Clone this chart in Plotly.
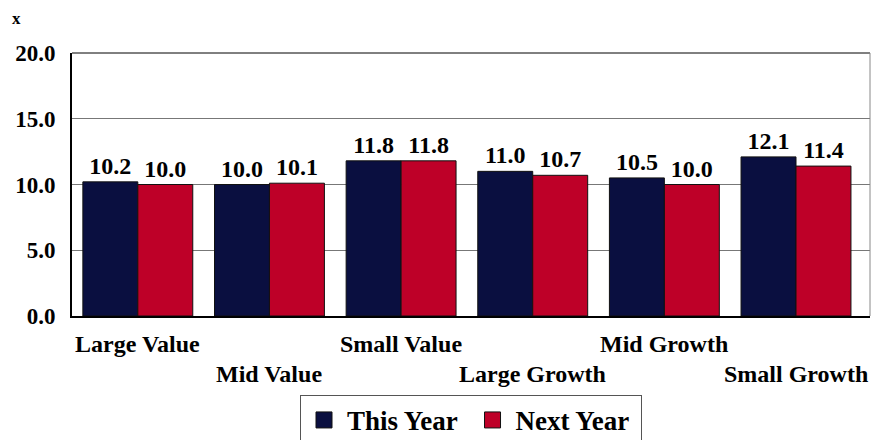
import plotly.graph_objects as go

categories = ["Large Value", "Mid Value", "Small Value", "Large Growth", "Mid Growth", "Small Growth"]
this_year = [10.2, 10.0, 11.8, 11.0, 10.5, 12.1]
next_year = [10.0, 10.1, 11.8, 10.7, 10.0, 11.4]
y_ticks = [0, 5, 10, 15, 20]

NAVY = "#0A0F40"
RED = "#BE0028"
FONT = "Liberation Serif"

fig = go.Figure()
fig.add_trace(go.Bar(x=categories, y=this_year, name="This Year", marker=dict(color=NAVY, line=dict(color="#111", width=1)),
                     text=[f"<b>{v:.1f}</b>" for v in this_year], textposition="outside", cliponaxis=False,
                     textfont=dict(size=24, color="black", family=FONT), showlegend=False))
fig.add_trace(go.Bar(x=categories, y=next_year, name="Next Year", marker=dict(color=RED, line=dict(color="#111", width=1)),
                     text=[f"<b>{v:.1f}</b>" for v in next_year], textposition="outside", cliponaxis=False,
                     textfont=dict(size=24, color="black", family=FONT), showlegend=False))
# legend entries
for name, col in [("This Year", NAVY), ("Next Year", RED)]:
    fig.add_trace(go.Scatter(x=[None], y=[None], mode="markers", name=f"<b>{name}</b>&nbsp;",
                             marker=dict(symbol="square", size=20, color=col, line=dict(color="#111", width=1))))

for i, c in enumerate(categories):
    fig.add_annotation(x=c, xref="x", y=-0.049 if i % 2 == 0 else -0.163, yref="paper", yanchor="top",
                       text=f"<b>{c}</b>", showarrow=False, font=dict(size=24, color="black", family=FONT))

fig.add_annotation(x=-0.078, xref="paper", y=1.133, yref="paper", xanchor="left", yanchor="middle",
                   text="<b>x</b>", showarrow=False, font=dict(size=17, color="black", family=FONT))

# top and right frame
fig.add_shape(type="line", xref="paper", yref="paper", x0=0, x1=1, y0=1, y1=1, line=dict(color="black", width=1))
fig.add_shape(type="line", xref="paper", yref="paper", x0=1, x1=1, y0=0, y1=1, line=dict(color="#888", width=1))

fig.update_layout(
    width=877, height=440,
    margin=dict(l=72, r=7, t=53, b=124, autoexpand=False),
    paper_bgcolor="white", plot_bgcolor="white",
    barmode="group", bargap=0.165, bargroupgap=0,
    font=dict(family=FONT, color="black"),
    legend=dict(orientation="h", x=0.5, xanchor="center", y=-0.30, yanchor="top",
                bordercolor="#555", borderwidth=1, font=dict(size=27, family=FONT, color="black"),
                itemsizing="trace", itemwidth=36),
    xaxis=dict(showticklabels=False, showline=True, linecolor="black", linewidth=2, ticks="", automargin=False),
    yaxis=dict(range=[0, 20], tickvals=y_ticks, ticktext=[f"<b>{v:.1f}</b>" for v in y_ticks],
               showgrid=True, gridcolor="#777", gridwidth=1, showline=True, linecolor="black", linewidth=2,
               tickfont=dict(size=23, family=FONT, color="black"), ticks="", ticklen=0,
               ticklabelstandoff=10, automargin=False),
)

fig.write_html("out.html", config={"displayModeBar": False},
               post_script="document.body.style.margin='0';document.body.style.overflow='hidden';")
